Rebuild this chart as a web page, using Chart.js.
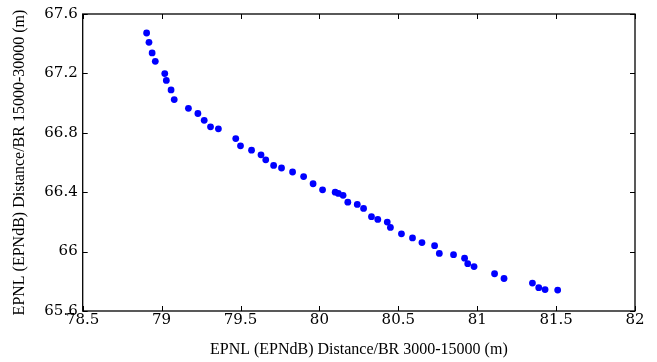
<!DOCTYPE html>
<html>
<head>
<meta charset="utf-8">
<script src="https://cdn.jsdelivr.net/npm/chart.js@4.4.1/dist/chart.umd.min.js"></script>
<style>
html, body { margin: 0; padding: 0; background: #fff; }
</style>
</head>
<body>
<canvas id="epnlChart" width="657" height="362"></canvas>
<script>
// EPNL values
const xValues = [78.905, 78.92, 78.94, 78.96, 79.02, 79.03, 79.06, 79.08, 79.17, 79.23,
                 79.27, 79.31, 79.36, 79.47, 79.50, 79.57, 79.63, 79.66, 79.71, 79.76,
                 79.83, 79.90, 79.96, 80.02, 80.10, 80.12, 80.15, 80.18, 80.24, 80.28,
                 80.33, 80.37, 80.43, 80.45, 80.52, 80.59, 80.65, 80.73, 80.76, 80.85,
                 80.92, 80.94, 80.98, 81.11, 81.17, 81.35, 81.39, 81.43, 81.51];
const yValues = [67.472, 67.409, 67.338, 67.281, 67.199, 67.153, 67.089, 67.024, 66.965, 66.93,
                 66.884, 66.84, 66.827, 66.761, 66.712, 66.683, 66.652, 66.618, 66.58, 66.563,
                 66.536, 66.505, 66.457, 66.416, 66.40, 66.392, 66.379, 66.333, 66.318, 66.291,
                 66.235, 66.217, 66.199, 66.163, 66.12, 66.092, 66.061, 66.04, 65.988, 65.979,
                 65.956, 65.919, 65.899, 65.851, 65.819, 65.788, 65.757, 65.744, 65.741];
const xTicks = [78.5, 79, 79.5, 80, 80.5, 81, 81.5, 82];
const yTicks = [65.6, 66, 66.4, 66.8, 67.2, 67.6];
const xTitle = 'EPNL (EPNdB) Distance/BR 3000-15000 (m)';
const yTitle = 'EPNL (EPNdB) Distance/BR 15000-30000 (m)';

const tickFont = { family: 'DejaVu Serif', size: 15 };
const titleFont = { family: 'Liberation Serif', size: 16 };

// box around the plot with inward ticks on every side
const frameTicks = {
    id: 'frameTicks',
    afterDatasetsDraw(chart) {
        const { ctx, chartArea: a, scales: { x, y } } = chart;
        ctx.save();
        ctx.strokeStyle = '#000';
        ctx.lineWidth = 1;
        ctx.beginPath();
        xTicks.forEach(function (v) {
            const px = Math.round(x.getPixelForValue(v)) + 0.5;
            ctx.moveTo(px, a.bottom); ctx.lineTo(px, a.bottom - 5);
            ctx.moveTo(px, a.top); ctx.lineTo(px, a.top + 5);
        });
        yTicks.forEach(function (v) {
            const py = Math.round(y.getPixelForValue(v)) + 0.5;
            ctx.moveTo(a.left, py); ctx.lineTo(a.left + 5, py);
            ctx.moveTo(a.right, py); ctx.lineTo(a.right - 5, py);
        });
        ctx.stroke();
        ctx.lineWidth = 1.3;
        ctx.strokeRect(a.left, a.top, a.right - a.left, a.bottom - a.top);
        ctx.restore();
    }
};

const ctx = document.getElementById('epnlChart').getContext('2d');
const epnlChart = new Chart(ctx, {
    type: 'scatter',
    data: {
        datasets: [{
            data: xValues.map(function (v, i) { return { x: v, y: yValues[i] }; }),
            backgroundColor: '#0000ff',
            borderWidth: 0,
            pointRadius: 3.4
        }]
    },
    options: {
        responsive: false,
        animation: false,
        layout: { padding: { top: 13, right: 22, bottom: 3, left: 10 } },
        plugins: {
            legend: { display: false },
            tooltip: { enabled: false }
        },
        scales: {
            x: {
                type: 'linear',
                min: 78.5,
                max: 82,
                afterBuildTicks: function (s) { s.ticks = xTicks.map(function (v) { return { value: v }; }); },
                afterFit: function (s) { s.height = 48; },
                grid: { display: false, drawTicks: false },
                border: { display: false },
                ticks: {
                    color: '#000',
                    font: tickFont,
                    padding: 0,
                    maxRotation: 0,
                    autoSkip: false,
                    callback: function (v) { return String(v); }
                },
                title: { display: true, text: xTitle, color: '#000', font: titleFont, padding: 0 }
            },
            y: {
                type: 'linear',
                min: 65.6,
                max: 67.6,
                afterBuildTicks: function (s) { s.ticks = yTicks.map(function (v) { return { value: v }; }); },
                afterFit: function (s) { s.width = 72.7; },
                grid: { display: false, drawTicks: false },
                border: { display: false },
                ticks: {
                    color: '#000',
                    font: tickFont,
                    padding: 5,
                    autoSkip: false,
                    callback: function (v) { return String(v); }
                },
                title: { display: true, text: yTitle, color: '#000', font: titleFont, padding: 0 }
            }
        }
    },
    plugins: [frameTicks]
});
</script>
</body>
</html>
